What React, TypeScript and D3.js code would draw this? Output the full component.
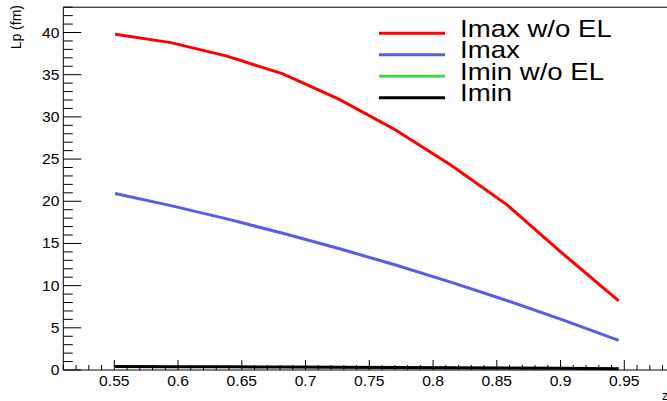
import React from "react";
import * as d3 from "d3";

const zValues = [0.5506, 0.5944, 0.6383, 0.6822, 0.7261, 0.77, 0.8139, 0.8578, 0.9017, 0.9456];
const imaxNoEL = [39.8, 38.8, 37.2, 35.1, 32.1, 28.5, 24.3, 19.6, 13.8, 8.2];
const imax = [20.92, 19.48, 17.91, 16.21, 14.4, 12.47, 10.41, 8.24, 5.94, 3.52];
const iminNoEL = [0.42, 0.4, 0.38, 0.36, 0.33, 0.3, 0.27, 0.24, 0.2, 0.16];
const imin = [0.42, 0.4, 0.38, 0.36, 0.33, 0.3, 0.27, 0.24, 0.2, 0.16];

const xTickLabels = ["0.55", "0.6", "0.65", "0.7", "0.75", "0.8", "0.85", "0.9", "0.95"];
const yTickLabels = ["0", "5", "10", "15", "20", "25", "30", "35", "40"];

const seriesNames = ["Imax w/o EL", "Imax", "Imin w/o EL", "Imin"];
const seriesColors = ["#ff0000", "#5a5ae4", "#4fd24f", "#000000"];
const seriesData = [imaxNoEL, imax, iminNoEL, imin];

const W = 667;
const H = 401;

export default function App() {
  const x = d3.scaleLinear().domain([0.51, 0.99]).range([63.3, 675.3]);
  const y = d3.scaleLinear().domain([0, 43]).range([370, 7.2]);
  const line = d3
    .line<number>()
    .x((_, i) => x(zValues[i]))
    .y((d) => y(d));

  const xMinor = d3.range(51, 100).map((v) => v / 100);
  const yMinor = d3.range(0, 44);
  const x0 = x(0.51);
  const yb = y(0);
  const yt = y(43);

  const drawOrder = [2, 3, 1, 0];
  const widths = [3, 3, 2, 3];

  return (
    <svg
      width={W}
      height={H}
      style={{ position: "absolute", left: 0, top: 0, background: "#fff" }}
      fontFamily="'Liberation Sans', Arial, sans-serif"
    >
      <rect x={0} y={0} width={W} height={H} fill="#fff" />
      {/* frame */}
      <line x1={x0} x2={W} y1={yt} y2={yt} stroke="#000" strokeWidth={1} />
      <line x1={x0} x2={x0} y1={yt} y2={yb} stroke="#000" strokeWidth={1} />
      <line x1={x0} x2={W} y1={yb} y2={yb} stroke="#000" strokeWidth={1} />

      {/* x ticks */}
      {xMinor.map((v, i) => {
        const major = Math.round(v * 100) % 5 === 0;
        return (
          <line
            key={"xt" + i}
            x1={x(v)}
            x2={x(v)}
            y1={yb}
            y2={yb - (major ? 10 : 5)}
            stroke="#000"
            strokeWidth={1}
          />
        );
      })}
      {xTickLabels.map((t) => (
        <g key={"xl" + t} transform={`translate(${x(+t)},386) scale(1.12,1)`}>
          <text textAnchor="middle" fontSize={14} fill="#000">
            {t}
          </text>
        </g>
      ))}

      {/* y ticks */}
      {yMinor.map((v) => {
        const major = v % 5 === 0;
        return (
          <line
            key={"yt" + v}
            x1={x0}
            x2={x0 + (major ? 18 : 9.5)}
            y1={y(v)}
            y2={y(v)}
            stroke="#000"
            strokeWidth={1}
          />
        );
      })}
      {yTickLabels.map((t) => (
        <g key={"yl" + t} transform={`translate(59.5,${y(+t) + 5}) scale(1.12,1)`}>
          <text textAnchor="end" fontSize={14} fill="#000">
            {t}
          </text>
        </g>
      ))}

      {/* axis titles */}
      <text
        transform="translate(21,5) rotate(-90)"
        textAnchor="end"
        fontSize={14}
        fill="#000"
      >
        Lp (fm)
      </text>
      <text x={662} y={400} fontSize={12} fill="#000">
        z
      </text>

      {/* series */}
      {drawOrder.map((k) => (
        <path
          key={"s" + k}
          d={line(seriesData[k]) || ""}
          fill="none"
          stroke={seriesColors[k]}
          strokeWidth={widths[k]}
        />
      ))}

      {/* legend */}
      {seriesNames.map((name, i) => {
        const ly = 33.3 + i * 21.5;
        return (
          <g key={"lg" + i}>
            <line x1={379} x2={445} y1={ly} y2={ly} stroke={seriesColors[i]} strokeWidth={3} />
            <g transform={`translate(460,${ly + 3.4}) scale(1.2,1)`}>
              <text fontSize={23} fill="#000">
                {name}
              </text>
            </g>
          </g>
        );
      })}
    </svg>
  );
}
